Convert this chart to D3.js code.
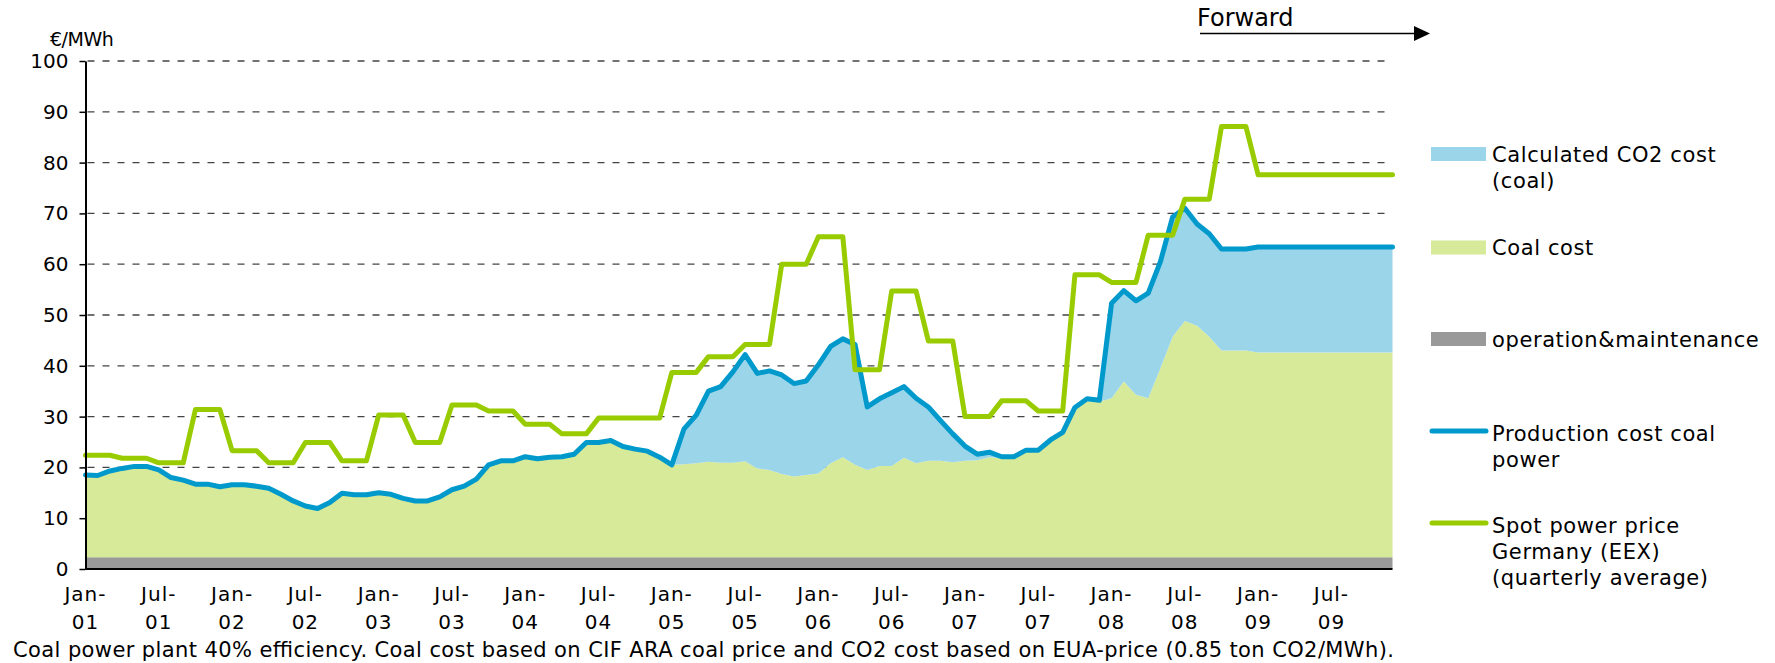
<!DOCTYPE html>
<html>
<head>
<meta charset="utf-8">
<script src="https://cdn.jsdelivr.net/npm/d3@7"></script>
<style>
body{margin:0;background:#fff;}
svg{display:block;font-family:"DejaVu Sans",Verdana,sans-serif;}
</style>
</head>
<body>
<svg id="chart"></svg>
<script>
// monthly, Jan-01 .. Dec-09, €/MWh
var omCost = 2.3;
var coalCost = [
  16.2,16.1,17.0,17.5,17.9,17.9,17.2,15.7,15.2,14.4,14.4,13.9,
  14.3,14.3,14.0,13.6,12.4,11.1,10.1,9.6,10.8,12.6,12.3,12.3,
  12.7,12.4,11.6,11.1,11.1,11.9,13.3,14.0,15.4,18.2,19.0,19.0,
  19.8,19.4,19.7,19.8,20.3,22.6,22.6,23.0,21.8,21.3,20.9,19.7,
  18.2,18.3,18.5,18.8,18.6,18.6,18.9,17.5,17.2,16.4,15.9,16.2,
  16.5,18.5,19.7,18.2,17.2,18.0,18.0,19.6,18.5,19.0,19.0,18.7,
  19.0,19.1,19.7,19.5,19.5,20.8,20.8,22.8,24.3,29.2,30.7,30.6,
  31.3,34.6,32.0,31.3,37.2,43.4,46.5,45.6,43.4,40.7,40.7,40.7,
  40.3,40.3,40.3,40.3,40.3,40.3,40.3,40.3,40.3,40.3,40.3,40.3
];
var co2Cost = [
  0,0,0,0,0,0,0,0,0,0,0,0,
  0,0,0,0,0,0,0,0,0,0,0,0,
  0,0,0,0,0,0,0,0,0,0,0,0,
  0,0,0,0,0,0,0,0,0,0,0,0,
  0.0,7.0,9.5,13.9,15.0,17.9,21.0,18.7,19.5,19.5,18.3,18.5,
  21.4,23.0,23.3,23.7,12.4,13.2,14.4,14.0,12.8,10.6,7.9,5.6,
  2.9,1.2,1.0,0.3,0.3,0.3,0.3,0.3,0.3,0.3,0.5,0.3,
  18.7,17.9,18.5,20.7,21.0,23.6,22.2,20.0,20.3,20.0,20.0,20.0,
  20.8,20.8,20.8,20.8,20.8,20.8,20.8,20.8,20.8,20.8,20.8,20.8
];
// quarterly averages Q1-01 .. Q4-09
var spotQuarterly = [
  22.4,21.8,20.9,31.4,
  23.3,20.9,24.9,21.3,
  30.3,24.9,32.3,31.1,
  28.5,26.6,29.7,29.7,
  38.7,41.8,44.2,60.0,
  65.4,39.2,54.7,44.9,
  30.0,33.1,31.1,57.9,
  56.4,65.7,72.8,87.1,
  77.6,77.6,77.6,77.6
];
var yTicks = [0,10,20,30,40,50,60,70,80,90,100];
var legendNames = [
  ["Calculated CO2 cost","(coal)"],
  ["Coal cost"],
  ["operation&maintenance"],
  ["Production cost coal","power"],
  ["Spot power price","Germany (EEX)","(quarterly average)"]
];
var footnote = "Coal power plant 40% efficiency. Coal cost based on CIF ARA coal price and CO2 cost based on EUA-price (0.85 ton CO2/MWh).";

var colors = {om:"#999999", coal:"#d6ea99", co2:"#9bd5ea", prod:"#0099cc", spot:"#99cc00"};

function go(){
  var width = 1775, height = 663;
  var margin = {left:85.5, right:1392.5, top:61, bot:569};

  var svg = d3.select("#chart").attr("width",width).attr("height",height);

  var months = d3.timeMonth.range(new Date(2001,0,1), new Date(2010,0,1));
  var rows = months.map(function(d,i){
    return {date:d, om:omCost, coal:coalCost[i], co2:co2Cost[i]};
  });
  var series = d3.stack().keys(["om","coal","co2"])(rows);
  var spot = months.map(function(d,i){ return spotQuarterly[Math.floor(i/3)]; });

  var xScale = d3.scaleLinear().domain([0,months.length-1]).range([margin.left,margin.right]);
  var yScale = d3.scaleLinear().domain([0,100]).range([margin.bot,margin.top]);

  // grid
  svg.append("g").selectAll("line")
     .data(yTicks.filter(function(d){return d>0;}))
     .enter().append("line")
     .attr("x1",margin.left+2).attr("x2",margin.right)
     .attr("y1",function(d){return yScale(d);})
     .attr("y2",function(d){return yScale(d);})
     .attr("stroke","#444").attr("stroke-width",1.3)
     .attr("stroke-dasharray","7,8");

  // stacked areas
  var area = d3.area()
               .x(function(d,i){return xScale(i);})
               .y0(function(d){return yScale(d[0]);})
               .y1(function(d){return yScale(d[1]);});
  svg.append("g").selectAll("path")
     .data(series)
     .enter().append("path")
     .attr("d",area)
     .attr("fill",function(d){return colors[d.key];});

  var lineMaker = d3.line()
                    .x(function(d,i){return xScale(i);})
                    .y(function(d){return yScale(d);});

  // production cost = top of the stack
  svg.append("path")
     .attr("d",lineMaker(series[2].map(function(d){return d[1];})))
     .attr("fill","none").attr("stroke",colors.prod)
     .attr("stroke-width",5).attr("stroke-linejoin","round").attr("stroke-linecap","round");

  svg.append("path")
     .attr("d",lineMaker(spot))
     .attr("fill","none").attr("stroke",colors.spot)
     .attr("stroke-width",5).attr("stroke-linejoin","round").attr("stroke-linecap","round");

  // y axis
  var yAxis = d3.axisLeft(yScale).tickValues(yTicks).tickSize(6).tickSizeOuter(0).tickPadding(11);
  var gy = svg.append("g").attr("transform","translate("+margin.left+",0)").call(yAxis);
  gy.select(".domain").attr("stroke","#000").attr("stroke-width",2);
  gy.selectAll(".tick line").attr("stroke","#000").attr("stroke-width",1.5);
  gy.selectAll("text").attr("font-size",20).attr("font-family","DejaVu Sans").attr("fill","#000");

  // x axis line
  svg.append("line")
     .attr("x1",margin.left).attr("x2",margin.right)
     .attr("y1",margin.bot).attr("y2",margin.bot)
     .attr("stroke","#000").attr("stroke-width",2);

  // x labels
  var fmtMon = d3.timeFormat("%b-"), fmtYr = d3.timeFormat("%y");
  var xTicks = d3.range(0,months.length,6);
  var xl = svg.append("g").selectAll("text")
     .data(xTicks).enter().append("text")
     .attr("text-anchor","middle").attr("font-size",20).attr("letter-spacing",1);
  xl.append("tspan").attr("x",function(d){return xScale(d);}).attr("y",601)
    .text(function(d){return fmtMon(months[d]);});
  xl.append("tspan").attr("x",function(d){return xScale(d);}).attr("y",629)
    .text(function(d){return fmtYr(months[d]);});

  svg.append("text").attr("x",50).attr("y",46).attr("font-size",19).attr("letter-spacing",-0.5)
     .text("€/MWh");

  // forward marker
  svg.append("text").attr("x",1197).attr("y",26).attr("font-size",24).text("Forward");
  svg.append("line").attr("x1",1200).attr("x2",1415).attr("y1",33.5).attr("y2",33.5)
     .attr("stroke","#000").attr("stroke-width",1.5);
  svg.append("path").attr("d","M1414,26L1430,33.5L1414,41Z").attr("fill","#000");

  // legend
  var legendY = [161.5, 255, 346.5, 441, 533];
  var legendType = ["co2","coal","om","prod","spot"];
  var lg = svg.append("g").selectAll("g").data(legendNames).enter().append("g");
  lg.each(function(d,i){
    var g = d3.select(this);
    var k = legendType[i];
    if(k==="prod"||k==="spot"){
      g.append("line").attr("x1",1432).attr("x2",1486)
       .attr("y1",legendY[i]-10).attr("y2",legendY[i]-10)
       .attr("stroke",colors[k]).attr("stroke-width",5).attr("stroke-linecap","round");
    } else {
      g.append("rect").attr("x",1431).attr("y",legendY[i]-14.5).attr("width",55).attr("height",14)
       .attr("fill",colors[k]);
    }
    var t = g.append("text").attr("font-size",21).attr("letter-spacing",0.6);
    d.forEach(function(line,j){
      t.append("tspan").attr("x",1492).attr("y",legendY[i]+j*26).text(line);
    });
  });

  svg.append("text").attr("x",13).attr("y",657).attr("font-size",21)
     .attr("textLength",1381).attr("lengthAdjust","spacing").text(footnote);
}
go();
</script>
</body>
</html>
